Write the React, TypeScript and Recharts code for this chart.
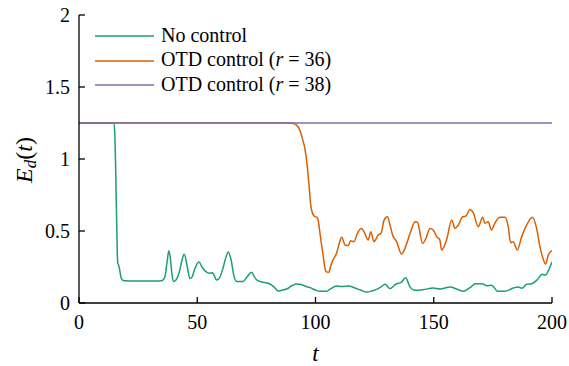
import React from 'react'
import { LineChart, Line, XAxis, YAxis, Legend } from 'recharts'

// time samples and E_d(t) values
const tNoControl = [
  0, 14, 14.8, 15.2, 15.6, 16.0, 16.35, 16.8, 17.3, 17.9, 19, 25, 33, 35, 36.3, 37.2, 38, 38.7, 39.3,
  39.9, 41, 42.5, 43.6, 44.5, 45.8, 46.9, 47.8, 49, 50.7, 52, 53.2, 55.3, 56.4, 57.2, 58.1, 59,
  60.5, 62, 63.1, 64.3, 65.5, 66.6, 69.4, 71, 73, 74.2, 75.2, 77.3, 79, 80.8, 82.5, 84.3, 86,
  87.8, 90, 92, 94, 96.3, 98, 100, 101.9, 104.7, 106.5, 108.9, 111, 113.9, 116.7, 119, 121.6,
  124, 126.5, 128, 129.4, 131.5, 134.3, 136.1, 138.1, 140, 141.8, 145.6, 149.8, 152.6, 156.9,
  159.7, 162.5, 165.3, 167.7, 170.9, 172.3, 174.4, 175.6, 177, 180.1, 183.6, 185.8, 187.2, 189.3,
  191.4, 193.8, 195.8, 197.3, 198.6, 200,
]
const eNoControl = [
  1.25, 1.25, 1.25, 1.15, 0.85, 0.5, 0.28, 0.26, 0.22, 0.17, 0.155, 0.153, 0.153, 0.155, 0.18, 0.28, 0.363, 0.3, 0.2,
  0.15, 0.16, 0.22, 0.3, 0.338, 0.25, 0.17, 0.18, 0.24, 0.285, 0.25, 0.225, 0.206, 0.21, 0.19, 0.16, 0.165,
  0.22, 0.31, 0.354, 0.3, 0.19, 0.15, 0.15, 0.18, 0.213, 0.18, 0.16, 0.146, 0.14, 0.132, 0.11, 0.083, 0.09,
  0.097, 0.12, 0.132, 0.128, 0.113, 0.105, 0.09, 0.081, 0.081, 0.1, 0.118, 0.115, 0.118, 0.104, 0.09, 0.076,
  0.085, 0.1, 0.115, 0.13, 0.1, 0.134, 0.141, 0.176, 0.11, 0.088, 0.093, 0.104, 0.097, 0.111,
  0.097, 0.081, 0.106, 0.134, 0.132, 0.12, 0.123, 0.106, 0.081, 0.081, 0.104, 0.111, 0.102, 0.13,
  0.134, 0.162, 0.199, 0.194, 0.23, 0.285,
]

const tOtd36 = [
  0, 88, 90, 92, 93.4, 94.5, 95.6, 96.5, 97.2, 98, 98.6, 99.4, 100.5, 101, 101.9, 102.6, 103.3, 104,
  104.4, 105.6, 106.5, 107.5, 108.9, 110, 111.1, 112.5, 113.9, 114.8, 116.3, 117.7, 119.5, 120.7,
  122.3, 123.4, 124.7, 126.5, 127.7, 129, 130.4, 131.5, 132.6, 134.3, 136.4, 137.8, 140, 142.1,
  143.1, 145.3, 146.7, 148.4, 149.8, 151.2, 152.6, 153.3, 155.4, 157.6, 159, 160.4, 162.2, 163.6,
  165.3, 166.7, 168.8, 170.7, 171.6, 173, 174.4, 175.8, 178, 180.1, 181.5, 182.5, 183.6, 185.3,
  187.2, 189.3, 191.7, 193.5, 194.9, 196, 197.3, 198.4, 200,
]
const eOtd36 = [
  1.25, 1.25, 1.248, 1.235, 1.2, 1.14, 1.065, 0.95, 0.83, 0.68, 0.63, 0.605, 0.595, 0.583, 0.484, 0.4, 0.322, 0.24,
  0.218, 0.213, 0.26, 0.303, 0.345, 0.41, 0.456, 0.403, 0.399, 0.433, 0.426, 0.484, 0.518, 0.488,
  0.437, 0.495, 0.426, 0.472, 0.484, 0.576, 0.599, 0.542, 0.472, 0.426, 0.34, 0.379, 0.484, 0.565,
  0.56, 0.414, 0.449, 0.518, 0.507, 0.461, 0.437, 0.368, 0.437, 0.576, 0.518, 0.542, 0.599, 0.604,
  0.65, 0.627, 0.53, 0.595, 0.553, 0.565, 0.507, 0.553, 0.595, 0.595, 0.53, 0.419, 0.426, 0.368,
  0.461, 0.542, 0.595, 0.518, 0.391, 0.32, 0.27, 0.333, 0.363,
]

const tOtd38 = [0, 200]
const eOtd38 = [1.25, 1.25]

const xTicks = [0, 50, 100, 150, 200]
const yTicks = [0, 0.5, 1, 1.5, 2]

const seriesNames = ['No control', 'OTD control', 'OTD control']
const seriesR = ['', '36', '38']
const colors = ['#1b9e77', '#d95f02', '#7570b3']

const toPoints = (ts: number[], es: number[]) => ts.map((t, i) => ({ t, e: es[i] }))

const noControl = toPoints(tNoControl, eNoControl)
const otd36 = toPoints(tOtd36, eOtd36)
const otd38 = toPoints(tOtd38, eOtd38)

const FONT = '"Liberation Serif", "Times New Roman", serif'
const tickStyle = { fontFamily: FONT, fontSize: 20, fill: '#000' }

function YLabel({ viewBox }: any) {
  const cy = viewBox.y + viewBox.height / 2
  return (
    <text
      transform={`translate(32, ${cy + 1}) rotate(-90)`}
      textAnchor="middle"
      fontFamily={FONT}
      fontSize={24}
      fill="#000"
    >
      <tspan fontStyle="italic">E</tspan>
      <tspan fontStyle="italic" fontSize={17} dy={4}>d</tspan>
      <tspan dy={-4}>(</tspan>
      <tspan fontStyle="italic">t</tspan>
      <tspan>)</tspan>
    </text>
  )
}

function XLabel({ viewBox }: any) {
  const cx = viewBox.x + viewBox.width / 2
  return (
    <text x={cx} y={viewBox.y + 58} textAnchor="middle" fontFamily={FONT} fontSize={23} fontStyle="italic" fill="#000">
      t
    </text>
  )
}

function LegendBox() {
  return (
    <div style={{ fontFamily: FONT, fontSize: 20, color: '#000' }}>
      {seriesNames.map((name, i) => (
        <div key={i} style={{ display: 'flex', alignItems: 'center', height: 24.5 }}>
          <svg width={59} height={4} style={{ marginRight: 7 }}>
            <line x1={0} x2={59} y1={2} y2={2} stroke={colors[i]} strokeWidth={1.5} />
          </svg>
          <span style={{ whiteSpace: 'nowrap', position: 'relative', top: -1 }}>
            {name}
            {seriesR[i] && (
              <>
                {' ('}
                <i>r</i>
                {' = ' + seriesR[i] + ')'}
              </>
            )}
          </span>
        </div>
      ))}
    </div>
  )
}

export default function App() {
  return (
    <div style={{ position: 'absolute', left: 0, top: 0, width: 569, height: 366, background: '#fff' }}>
      <LineChart width={569} height={366} margin={{ top: 15, right: 17, left: 0, bottom: 0 }}>
        <XAxis
          dataKey="t"
          type="number"
          domain={[0, 200]}
          ticks={xTicks}
          allowDataOverflow
          height={63}
          stroke="#000"
          strokeWidth={1.3}
          tickSize={-6}
          tickMargin={18}
          tick={tickStyle}
          label={<XLabel />}
        />
        <XAxis
          xAxisId="top"
          orientation="top"
          type="number"
          domain={[0, 200]}
          ticks={xTicks}
          allowDataOverflow
          height={0}
          stroke="#000"
          strokeWidth={1.3}
          tickSize={-6}
          tickFormatter={() => ''}
        />
        <YAxis
          type="number"
          domain={[0, 2]}
          ticks={yTicks}
          allowDataOverflow
          width={79}
          stroke="#000"
          strokeWidth={1.3}
          tickSize={-6}
          tickMargin={15}
          tick={tickStyle}
          label={<YLabel />}
        />
        <YAxis
          yAxisId="right"
          orientation="right"
          type="number"
          domain={[0, 2]}
          ticks={yTicks}
          allowDataOverflow
          width={0}
          stroke="#000"
          strokeWidth={1.3}
          tickSize={-6}
          tickFormatter={() => ''}
        />
        <Legend
          layout="vertical"
          align="center"
          verticalAlign="middle"
          content={<LegendBox />}
          wrapperStyle={{ left: 95, top: 24, width: 'auto', height: 'auto' }}
        />
        <Line data={noControl} dataKey="e" type="monotone" stroke={colors[0]} strokeWidth={1.5} dot={false} isAnimationActive={false} />
        <Line data={otd36} dataKey="e" type="monotone" stroke={colors[1]} strokeWidth={1.5} dot={false} isAnimationActive={false} />
        <Line data={otd38} dataKey="e" type="monotone" stroke={colors[2]} strokeWidth={1.5} dot={false} isAnimationActive={false} />
      </LineChart>
    </div>
  )
}
